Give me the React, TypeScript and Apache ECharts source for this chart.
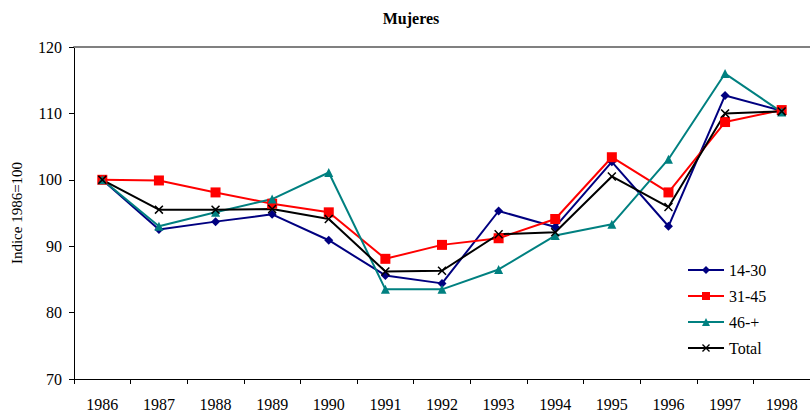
import React, { useEffect, useRef } from "react";
import * as echarts from "echarts";

const years = ["1986", "1987", "1988", "1989", "1990", "1991", "1992", "1993", "1994", "1995", "1996", "1997", "1998"];
const s1430 = [100, 92.5, 93.7, 94.8, 90.9, 85.6, 84.4, 95.3, 92.9, 102.7, 93.0, 112.7, 110.4];
const s3145 = [100, 99.9, 98.1, 96.4, 95.1, 88.1, 90.2, 91.2, 94.1, 103.4, 98.1, 108.7, 110.5];
const s46 = [100, 93.0, 95.1, 97.1, 101.1, 83.5, 83.5, 86.5, 91.6, 93.3, 103.1, 116.0, 110.2];
const sTotal = [100, 95.5, 95.5, 95.6, 94.1, 86.2, 86.3, 91.8, 92.1, 100.5, 95.9, 110.0, 110.3];

const FONT = "Liberation Serif";
const X_SYMBOL = "path://M0,1.2L1.2,0L5,3.8L8.8,0L10,1.2L6.2,5L10,8.8L8.8,10L5,6.2L1.2,10L0,8.8L3.8,5Z";

export default function App() {
  const ref = useRef<HTMLDivElement>(null);
  useEffect(() => {
    if (!ref.current) return;
    const chart = echarts.init(ref.current, undefined, { renderer: "svg" });
    const mk = (name: string, data: number[], color: string, symbol: string, size: number) => ({
      name,
      type: "line",
      data,
      symbol,
      symbolSize: size,
      lineStyle: { color, width: 2 },
      itemStyle: { color },
      emphasis: { disabled: true },
    });
    chart.setOption({
      animation: false,
      backgroundColor: "#fff",
      title: {
        text: "Mujeres",
        left: 406,
        textAlign: "center",
        top: 5,
        textStyle: { fontFamily: FONT, fontSize: 16, fontWeight: "bold", color: "#000" },
      },
      grid: { left: 74, right: 0, top: 47, bottom: 35 },
      legend: {
        orient: "vertical",
        left: 687,
        top: 262,
        padding: 0,
        itemWidth: 36,
        itemHeight: 10,
        itemGap: 10,
        textStyle: { fontFamily: FONT, fontSize: 16, color: "#000" },
        data: ["14-30", "31-45", "46-+", "Total"],
      },
      xAxis: [
        {
          type: "category",
          data: years,
          boundaryGap: true,
          axisLine: { lineStyle: { color: "#000", width: 1 } },
          axisTick: { show: true, length: 5, lineStyle: { color: "#000" } },
          axisLabel: { fontFamily: FONT, fontSize: 16, color: "#000", margin: 17 },
          splitLine: { show: false },
        },
        {
          type: "category",
          data: years,
          position: "top",
          axisLine: { lineStyle: { color: "#808080", width: 2 } },
          axisTick: { show: false },
          axisLabel: { show: false },
        },
      ],
      yAxis: {
        type: "value",
        min: 70,
        max: 120,
        interval: 10,
        name: "Indice 1986=100",
        nameLocation: "middle",
        nameGap: 50,
        nameRotate: 90,
        nameTextStyle: { fontFamily: FONT, fontSize: 15, color: "#000" },
        axisLine: { show: true, lineStyle: { color: "#000", width: 1 } },
        axisTick: { show: true, length: 5, lineStyle: { color: "#000" } },
        axisLabel: { fontFamily: FONT, fontSize: 16, color: "#000", margin: 12 },
        splitLine: { show: false },
      },
      series: [
        mk("14-30", s1430, "#000080", "diamond", 9),
        mk("31-45", s3145, "#FF0000", "rect", 10),
        mk("46-+", s46, "#008080", "triangle", 9),
        mk("Total", sTotal, "#000000", X_SYMBOL, 9),
      ],
    });
    return () => chart.dispose();
  }, []);
  return <div ref={ref} style={{ width: 810, height: 414, position: "absolute", left: 0, top: 0 }} />;
}
